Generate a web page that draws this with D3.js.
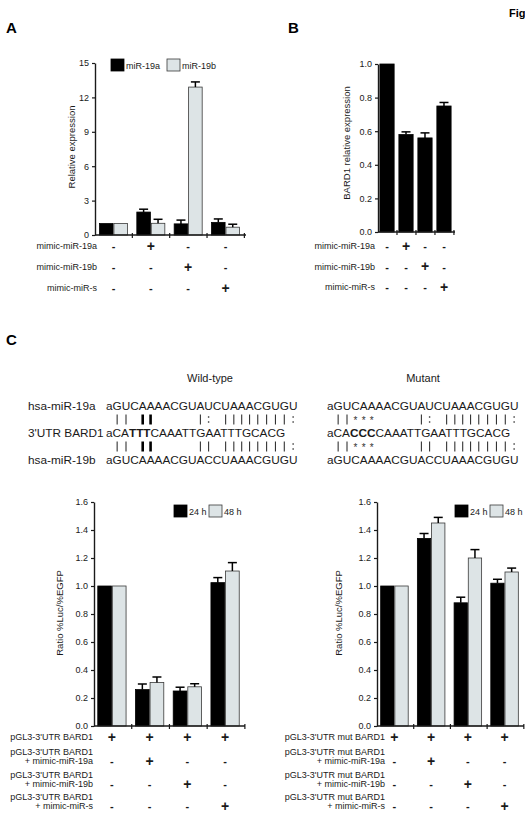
<!DOCTYPE html>
<html>
<head>
<meta charset="utf-8">
<script src="https://cdn.jsdelivr.net/npm/d3@7"></script>
<style>
  body { margin: 0; background: #fff; }
  svg { display: block; font-family: "Liberation Sans", Arial, sans-serif; }
</style>
</head>
<body>
<svg id="fig" width="525" height="816"></svg>
<script>
// ---- data ----
const groups = ["control", "mimic-miR-19a", "mimic-miR-19b", "mimic-miR-s"];

// panel A
const seriesA = ["miR-19a", "miR-19b"];
const miR19aExpr = [1.0, 2.0, 0.97, 1.1];
const miR19aErr = [0, 0.25, 0.33, 0.3];
const miR19bExpr = [1.0, 1.02, 12.9, 0.68];
const miR19bErr = [0, 0.35, 0.45, 0.26];
const ticksA = [0, 3, 6, 9, 12, 15];
const rowLabelsA = ["mimic-miR-19a", "mimic-miR-19b", "mimic-miR-s"];
const signsA = [["-", "+", "-", "-"], ["-", "-", "+", "-"], ["-", "-", "-", "+"]];

// panel B
const bard1Expr = [1.0, 0.58, 0.56, 0.75];
const bard1Err = [0, 0.016, 0.03, 0.021];
const ticksB = [0, 0.2, 0.4, 0.6, 0.8, 1.0];

// panel C
const seriesC = ["24 h", "48 h"];
const wt24 = [1.0, 0.26, 0.25, 1.024];
const wt24Err = [0, 0.04, 0.027, 0.036];
const wt48 = [1.0, 0.31, 0.28, 1.107];
const wt48Err = [0, 0.04, 0.022, 0.06];
const mut24 = [1.0, 1.34, 0.88, 1.02];
const mut24Err = [0, 0.035, 0.04, 0.028];
const mut48 = [1.0, 1.45, 1.2, 1.10];
const mut48Err = [0, 0.04, 0.06, 0.028];
const ticksC = [0, 0.2, 0.4, 0.6, 0.8, 1.0, 1.2, 1.4, 1.6];
const rowLabelsWT = [["pGL3-3'UTR BARD1"], ["pGL3-3'UTR BARD1", "+ mimic-miR-19a"],
  ["pGL3-3'UTR BARD1", "+ mimic-miR-19b"], ["pGL3-3'UTR BARD1", "+ mimic-miR-s"]];
const rowLabelsMut = [["pGL3-3'UTR mut BARD1"], ["pGL3-3'UTR mut BARD1", "+ mimic-miR-19a"],
  ["pGL3-3'UTR mut BARD1", "+ mimic-miR-19b"], ["pGL3-3'UTR mut BARD1", "+ mimic-miR-s"]];
const signsC = [["+", "+", "+", "+"], ["-", "+", "-", "-"], ["-", "-", "+", "-"], ["-", "-", "-", "+"]];

// sequence alignment
const miR19a = "aGUCAAAACGUAUCUAAACGUGU";
const miR19b = "aGUCAAAACGUACCUAAACGUGU";
const utrWT = [["aCA", false], ["TTT", true], ["CAAATTGAATTTGCACG", false]];
const utrMut = [["aCA", false], ["CCC", true], ["CAAATTGAATTTGCACG", false]];
// one char per sequence position, B = bold bar
const pairsWTa = " || BB     |: ||||||||:";
const pairsWTb = " || BB     || ||||||||:";
const pairsMuta = " ||***     |: ||||||||:";
const pairsMutb = " ||***     || ||||||||:";

const BLACK = "#000";
const GREY = "#dde4e6";
const TXT = "#1a1a1a";
const SMALL = 9;

const svg = d3.select("#fig");

function yAxis(x0, y, ticks, fmt) {
    const ax = svg.append("g")
        .attr("transform", `translate(${x0},0)`)
        .call(d3.axisLeft(y).tickValues(ticks).tickFormat(fmt).tickSize(3).tickSizeOuter(0));
    ax.select(".domain").attr("stroke", TXT).attr("stroke-width", 1.4);
    ax.selectAll(".tick line").attr("stroke", TXT).attr("stroke-width", 1.2);
    ax.selectAll("text").attr("font-size", SMALL).attr("fill", TXT).attr("font-family", null);
}

function xBase(x, y0) {
    const [a, b] = x.range();
    svg.append("line").attr("x1", a).attr("x2", b + 2).attr("y1", y0).attr("y2", y0)
        .attr("stroke", TXT).attr("stroke-width", 1.4);
    svg.append("g").selectAll("line")
        .data(x.domain())
        .join("line")
        .attr("x1", (d, i) => a + x.step() * (i + 1))
        .attr("x2", (d, i) => a + x.step() * (i + 1))
        .attr("y1", y0 - 2).attr("y2", y0 + 3)
        .attr("stroke", TXT).attr("stroke-width", 1.2);
}

function barSeries(x, sub, key, y, vals, errs, fill) {
    const g = svg.append("g");
    const data = groups.map((grp, i) => ({ grp, v: vals[i], e: errs[i] }));
    g.selectAll("rect").data(data).join("rect")
        .attr("x", d => x(d.grp) + sub(key))
        .attr("y", d => y(d.v))
        .attr("width", sub.bandwidth())
        .attr("height", d => y(0) - y(d.v))
        .attr("fill", fill)
        .attr("stroke", fill === BLACK ? BLACK : "#3a3a3a")
        .attr("stroke-width", 0.8);
    const eb = data.filter(d => d.e > 0);
    const cx = d => x(d.grp) + sub(key) + sub.bandwidth() / 2;
    g.selectAll("line.v").data(eb).join("line").attr("class", "v")
        .attr("x1", cx).attr("x2", cx)
        .attr("y1", d => y(d.v)).attr("y2", d => y(d.v + d.e))
        .attr("stroke", BLACK).attr("stroke-width", 1.5);
    g.selectAll("line.c").data(eb).join("line").attr("class", "c")
        .attr("x1", d => cx(d) - 4.5).attr("x2", d => cx(d) + 4.5)
        .attr("y1", d => y(d.v + d.e)).attr("y2", d => y(d.v + d.e))
        .attr("stroke", BLACK).attr("stroke-width", 1.5);
}

function legend(x0, y0, gap, names) {
    names.forEach((n, i) => {
        const lx = x0 + i * gap;
        svg.append("rect").attr("x", lx).attr("y", y0).attr("width", 13).attr("height", 12)
            .attr("fill", i === 0 ? BLACK : GREY).attr("stroke", i === 0 ? BLACK : "#3a3a3a").attr("stroke-width", 0.8);
        svg.append("text").attr("x", lx + 15).attr("y", y0 + 9.5).attr("font-size", SMALL)
            .attr("fill", TXT).text(n);
    });
}

function yLabel(cx, cy, t) {
    svg.append("text").attr("transform", `translate(${cx},${cy}) rotate(-90)`)
        .attr("text-anchor", "middle").attr("font-size", 9.5).attr("fill", TXT).text(t);
}

function signRow(x, yc, signs) {
    svg.append("g").selectAll("text").data(groups).join("text")
        .attr("x", d => x(d) + x.bandwidth() / 2)
        .attr("y", (d, i) => yc + (signs[i] === "+" ? 4.5 : 4))
        .attr("text-anchor", "middle")
        .attr("font-size", (d, i) => signs[i] === "+" ? 14 : 11)
        .attr("font-weight", "bold")
        .attr("fill", TXT)
        .text((d, i) => signs[i]);
}

function panelLetter(x, y, t) {
    svg.append("text").attr("x", x).attr("y", y).attr("font-size", 15)
        .attr("font-weight", "bold").attr("fill", BLACK).text(t);
}

// ---- panel A ----
panelLetter(6, 33, "A");
svg.append("text").attr("x", 509).attr("y", 17).attr("font-size", 11)
    .attr("font-weight", "bold").text("Fig");

const xA = d3.scaleBand().domain(groups).range([95, 244]).paddingInner(0.25).paddingOuter(0.12);
const subA = d3.scaleBand().domain(seriesA).range([0, xA.bandwidth()]).paddingInner(0.06);
const yA = d3.scaleLinear().domain([0, 15]).range([235, 63]);
barSeries(xA, subA, "miR-19a", yA, miR19aExpr, miR19aErr, BLACK);
barSeries(xA, subA, "miR-19b", yA, miR19bExpr, miR19bErr, GREY);
yAxis(95, yA, ticksA, d3.format("d"));
xBase(xA, 235);
legend(111, 59, 56, seriesA);
yLabel(75, 147, "Relative expression");
rowLabelsA.forEach((lab, r) => {
    const yc = 246 + r * 21;
    svg.append("text").attr("x", 97).attr("y", yc + 3).attr("text-anchor", "end")
        .attr("font-size", SMALL).attr("fill", TXT).text(lab);
    signRow(xA, yc, signsA[r]);
});

// ---- panel B ----
panelLetter(288, 33, "B");
const xB = d3.scaleBand().domain(groups).range([378, 453]).paddingInner(0.25).paddingOuter(0.1);
const subB = d3.scaleBand().domain(["BARD1"]).range([0, xB.bandwidth()]);
const yB = d3.scaleLinear().domain([0, 1]).range([232, 64]);
barSeries(xB, subB, "BARD1", yB, bard1Expr, bard1Err, BLACK);
yAxis(378, yB, ticksB, d3.format(".1f"));
xBase(xB, 232);
yLabel(350, 143, "BARD1 relative expression");
rowLabelsA.forEach((lab, r) => {
    const yc = 246 + r * 20.5;
    svg.append("text").attr("x", 375).attr("y", yc + 3).attr("text-anchor", "end")
        .attr("font-size", SMALL).attr("fill", TXT).text(lab);
    signRow(xB, yc, signsA[r]);
});

// ---- panel C: alignment ----
panelLetter(6, 345, "C");
svg.append("text").attr("x", 210).attr("y", 382).attr("text-anchor", "middle")
    .attr("font-size", 11).attr("fill", TXT).text("Wild-type");
svg.append("text").attr("x", 423).attr("y", 382).attr("text-anchor", "middle")
    .attr("font-size", 11).attr("fill", TXT).text("Mutant");

const SEQ = 11.8;
[["hsa-miR-19a", 410], ["3'UTR BARD1", 437], ["hsa-miR-19b", 464]].forEach(([t, yb]) => {
    svg.append("text").attr("x", 28).attr("y", yb).attr("font-size", SEQ).attr("fill", TXT).text(t);
});

function seqText(x0, yb, parts) {
    const t = svg.append("text").attr("x", x0).attr("y", yb).attr("font-size", SEQ).attr("fill", TXT);
    parts.forEach(([s, b]) => t.append("tspan").attr("font-weight", b ? "bold" : null).text(s));
    return t.node();
}

// pairing marks drawn as strokes under each sequence position
function pairRow(ref, yc, pattern) {
    const g = svg.append("g");
    pattern.split("").forEach((ch, i) => {
        if (ch === " ") return;
        const ext = ref.getExtentOfChar(i);
        const cx = ext.x + ext.width / 2;
        if (ch === "|" || ch === "B") {
            g.append("line").attr("x1", cx).attr("x2", cx)
                .attr("y1", yc - 5).attr("y2", yc + 5)
                .attr("stroke", ch === "B" ? BLACK : "#333")
                .attr("stroke-width", ch === "B" ? 2.6 : 1.1);
        } else if (ch === ":") {
            [-2.5, 2.5].forEach(dy => g.append("rect")
                .attr("x", cx - 0.7).attr("y", yc + dy - 0.7).attr("width", 1.4).attr("height", 1.4)
                .attr("fill", "#333"));
        } else {
            g.append("text").attr("x", cx).attr("y", yc + 4.5).attr("text-anchor", "middle")
                .attr("font-size", 10).attr("fill", "#333").text(ch);
        }
    });
}

[[106, utrWT, pairsWTa, pairsWTb], [327, utrMut, pairsMuta, pairsMutb]].forEach(([x0, utr, pa, pb]) => {
    const top = seqText(x0, 410, [[miR19a, false]]);
    seqText(x0, 437, utr);
    seqText(x0, 464, [[miR19b, false]]);
    pairRow(top, 419.5, pa);
    pairRow(top, 446.5, pb);
});

// ---- panel C: luciferase charts ----
const yC = d3.scaleLinear().domain([0, 1.6]).range([726, 502]);

function lucPanel(range, axisX, v24, e24, v48, e48, legX, labX, rowRight, rowLabels) {
    const x = d3.scaleBand().domain(groups).range(range).paddingInner(0.25).paddingOuter(0.1);
    const sub = d3.scaleBand().domain(seriesC).range([0, x.bandwidth()]).paddingInner(0.06);
    barSeries(x, sub, "24 h", yC, v24, e24, BLACK);
    barSeries(x, sub, "48 h", yC, v48, e48, GREY);
    yAxis(axisX, yC, ticksC, d3.format(".1f"));
    xBase(x, 726);
    legend(legX, 505, 35, seriesC);
    yLabel(labX, 613, "Ratio %Luc/%EGFP");
    const rowY = [[737], [752, 761], [775, 784], [797, 806]];
    rowLabels.forEach((lines, r) => {
        lines.forEach((l, k) => {
            svg.append("text").attr("x", rowRight).attr("y", rowY[r][k] + 3)
                .attr("text-anchor", "end").attr("font-size", SMALL).attr("fill", TXT).text(l);
        });
        signRow(x, rowY[r][lines.length - 1], signsC[r]);
    });
}

lucPanel([94, 243], 94, wt24, wt24Err, wt48, wt48Err, 174, 63, 93, rowLabelsWT);
lucPanel([377, 522], 377, mut24, mut24Err, mut48, mut48Err, 455, 342, 385, rowLabelsMut);
</script>
</body>
</html>
